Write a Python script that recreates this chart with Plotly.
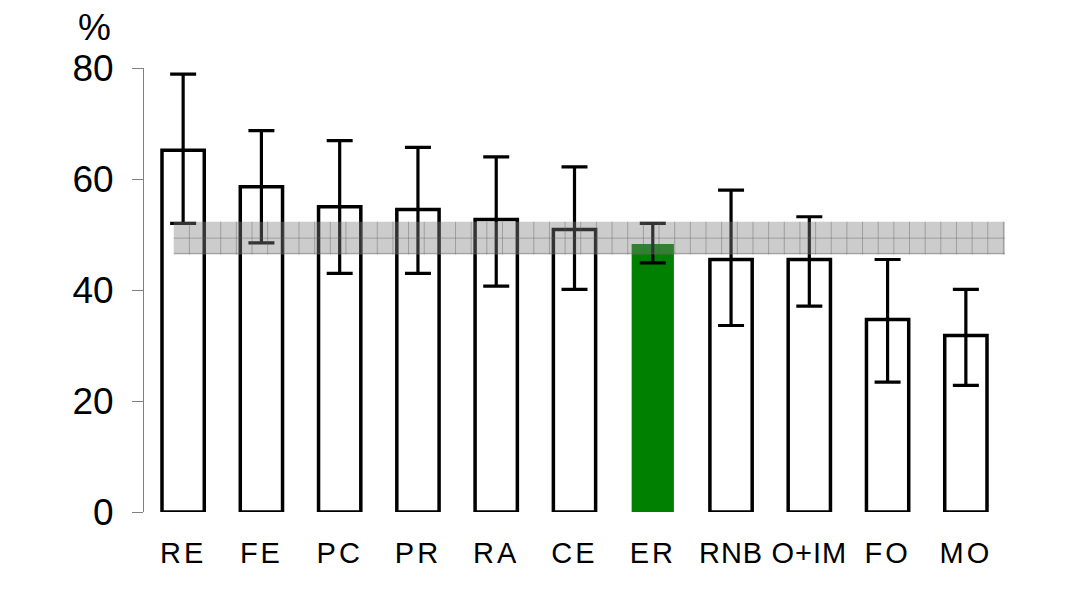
import plotly.graph_objects as go

# ---- data ----
categories = ["RE", "FE", "PC", "PR", "RA", "CE", "ER", "RNB", "O+IM", "FO", "MO"]
values = [65.2, 58.6, 55.0, 54.5, 52.7, 50.9, 48.3, 45.5, 45.5, 34.7, 31.8]
err_high = [78.9, 68.7, 66.9, 65.7, 64.0, 62.2, 52.0, 58.0, 53.2, 45.5, 40.1]
err_low = [52.0, 48.5, 43.0, 43.0, 40.7, 40.1, 44.9, 33.6, 37.1, 23.4, 22.8]
highlight = "ER"
band_low, band_high = 46.4, 52.3
y_ticks = [0, 20, 40, 60, 80]

FONT = "Liberation Sans, Arial, sans-serif"

plus = [h - v for h, v in zip(err_high, values)]
minus = [v - l for v, l in zip(values, err_low)]
fill = ["#008000" if c == highlight else "white" for c in categories]
lw = [0 if c == highlight else 3.5 for c in categories]
xs = list(range(len(categories)))

fig = go.Figure()
fig.add_trace(go.Bar(
    x=xs, y=values, width=0.54,
    marker=dict(color=fill, line=dict(color="black", width=lw)),
    error_y=dict(type="data", symmetric=False, array=plus, arrayminus=minus,
                 color="black", thickness=3.2, width=13),
    showlegend=False, hoverinfo="skip",
))

# reference band with hatch grid
bx0 = -0.12
bx1 = len(categories) - 0.5
shapes = [dict(type="rect", xref="x", yref="y", x0=bx0, x1=bx1, y0=band_low, y1=band_high,
               fillcolor="rgba(128,128,128,0.4)", line=dict(width=0), layer="above")]
step = 0.2
k = 1
while bx0 + k * step < bx1 - 0.01:
    xx = bx0 + k * step
    shapes.append(dict(type="line", xref="x", yref="y", x0=xx, x1=xx, y0=band_low, y1=band_high,
                       line=dict(color="rgba(90,90,90,0.4)", width=1), layer="above"))
    k += 1
mid = (band_low + band_high) / 2
for yy in (mid, band_low + 0.2):
    shapes.append(dict(type="line", xref="x", yref="y", x0=bx0, x1=bx1, y0=yy, y1=yy,
                       line=dict(color="rgba(90,90,90,0.4)", width=1), layer="above"))

ticktext = ['<span style="letter-spacing:%dpx">%s</span>' % (1 if len(c) > 2 else 3, c)
            for c in categories]

fig.update_layout(
    width=1082, height=608,
    margin=dict(l=136, r=85, t=60, b=104),
    paper_bgcolor="white", plot_bgcolor="white",
    font=dict(family=FONT, color="black"),
    shapes=shapes,
    xaxis=dict(range=[-0.5, len(categories) - 0.5], tickvals=xs, ticktext=ticktext,
               showline=False, showgrid=False, zeroline=False, ticks="",
               tickangle=0, automargin=False,
               tickfont=dict(size=29, family=FONT), ticklabelstandoff=21),
    yaxis=dict(range=[0, 80], tickvals=y_ticks, showline=True, linecolor="#808080",
               linewidth=1, ticks="outside", ticklen=11, tickcolor="#808080",
               automargin=False,
               showgrid=False, zeroline=False, tickfont=dict(size=37, family=FONT),
               ticklabelstandoff=11),
    annotations=[dict(text="%", xref="paper", yref="paper", x=-0.058, y=1.092,
                      xanchor="center", yanchor="middle", showarrow=False,
                      font=dict(size=37, family=FONT))],
)

fig.write_html("out.html")
